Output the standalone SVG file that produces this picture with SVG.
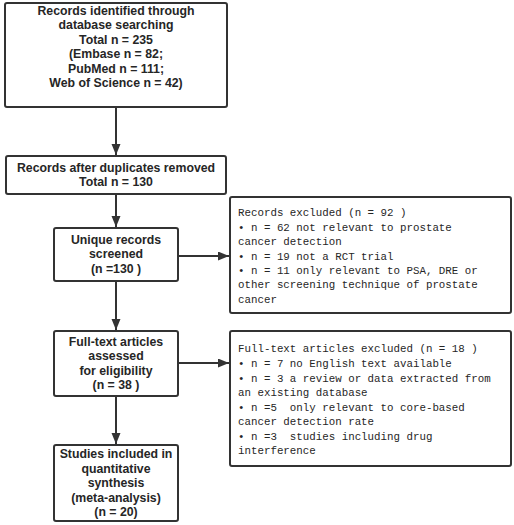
<svg xmlns="http://www.w3.org/2000/svg" width="514" height="525" viewBox="0 0 514 525">
<style>
.box{fill:#fff;stroke:#333;stroke-width:2}
.b{font-family:"Liberation Sans",Arial,sans-serif;font-weight:bold;font-size:12.3px;fill:#262626;text-anchor:middle}
.m{font-family:"Liberation Mono","Courier New",monospace;font-size:10.8px;fill:#262626;white-space:pre}
.c{stroke:#333;stroke-width:2;fill:none;marker-end:url(#ah)}
</style>
<defs>
<marker id="ah" markerUnits="userSpaceOnUse" markerWidth="12" markerHeight="10" refX="11" refY="4.5" orient="auto">
<path d="M0,0 L11,4.5 L0,9 z" fill="#333"/>
</marker>
</defs>
<rect width="514" height="525" fill="#fff"/>
<g id="connectors">
<line class="c" x1="116" y1="107" x2="116" y2="155"/>
<line class="c" x1="116" y1="194" x2="116" y2="227"/>
<line class="c" x1="178" y1="256" x2="229" y2="256"/>
<line class="c" x1="116" y1="281" x2="116" y2="330"/>
<line class="c" x1="178" y1="363" x2="229" y2="363"/>
<line class="c" x1="116" y1="396" x2="116" y2="444"/>
</g>
<g id="n1">
<rect class="box" x="5" y="3" width="222" height="104" rx="2"/>
<text class="b"><tspan x="116" y="15">Records identified through</tspan><tspan x="116" y="29">database searching</tspan><tspan x="116" y="44">Total n = 235</tspan><tspan x="116" y="58">(Embase n = 82;</tspan><tspan x="116" y="73">PubMed n = 111;</tspan><tspan x="116" y="87">Web of Science n = 42)</tspan></text>
</g>
<g id="n2">
<rect class="box" x="6" y="156" width="220" height="38" rx="2"/>
<text class="b"><tspan x="116" y="172">Records after duplicates removed</tspan><tspan x="116" y="186">Total n = 130</tspan></text>
</g>
<g id="n3">
<rect class="box" x="54" y="228" width="124" height="53" rx="2"/>
<text class="b"><tspan x="116" y="244">Unique records</tspan><tspan x="116" y="258">screened</tspan><tspan x="116" y="273">(n =130 )</tspan></text>
</g>
<g id="n4">
<rect class="box" x="230" y="197" width="281" height="116" rx="2"/>
<text class="m"><tspan x="238" y="216">Records excluded (n = 92 )</tspan><tspan x="238" y="231">• n = 62 not relevant to prostate</tspan><tspan x="238" y="245">cancer detection</tspan><tspan x="238" y="260">• n = 19 not a RCT trial</tspan><tspan x="238" y="274">• n = 11 only relevant to PSA, DRE or</tspan><tspan x="238" y="288">other screening technique of prostate</tspan><tspan x="238" y="303">cancer</tspan></text>
</g>
<g id="n5">
<rect class="box" x="54" y="331" width="124" height="65" rx="2"/>
<text class="b"><tspan x="116" y="346">Full-text articles</tspan><tspan x="116" y="360">assessed</tspan><tspan x="116" y="375">for eligibility</tspan><tspan x="116" y="389">(n = 38 )</tspan></text>
</g>
<g id="n6">
<rect class="box" x="230" y="331" width="281" height="135" rx="2"/>
<text class="m"><tspan x="238" y="352">Full-text articles excluded (n = 18 )</tspan><tspan x="238" y="367">• n = 7 no English text available</tspan><tspan x="238" y="382">• n = 3 a review or data extracted from</tspan><tspan x="238" y="396">an existing database</tspan><tspan x="238" y="411">• n =5  only relevant to core-based</tspan><tspan x="238" y="425">cancer detection rate</tspan><tspan x="238" y="440">• n =3  studies including drug</tspan><tspan x="238" y="454">interference</tspan></text>
</g>
<g id="n7">
<rect class="box" x="54" y="445" width="124" height="76" rx="2"/>
<text class="b"><tspan x="116" y="458">Studies included in</tspan><tspan x="116" y="473">quantitative</tspan><tspan x="116" y="487">synthesis</tspan><tspan x="116" y="502">(meta-analysis)</tspan><tspan x="116" y="516">(n = 20)</tspan></text>
</g>
</svg>
